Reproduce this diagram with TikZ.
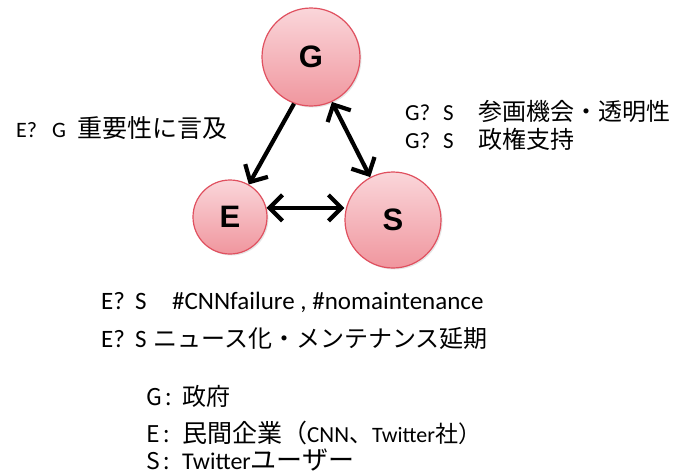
\documentclass[tikz,border=0pt]{standalone}
\usepackage{fontspec}
\setmainfont{Carlito}
\newfontfamily\jp{Noto Sans CJK JP}
\newfontfamily\arialb{Liberation Sans}
\usetikzlibrary{arrows.meta,shadows}
\definecolor{pinktop}{HTML}{FAD6DA}
\definecolor{pinkbot}{HTML}{F0969E}
\definecolor{pinkedge}{HTML}{E0505F}
\tikzset{
  actor/.style={circle, draw=pinkedge, line width=1.2pt, top color=pinktop, bottom color=pinkbot,
    font=\arialb\bfseries\fontsize{31}{34}\selectfont, inner sep=0pt,
    drop shadow={opacity=0.2, shadow xshift=1.5pt, shadow yshift=-1.5pt}},
  rel/.style={line width=4.2pt, black, >={Straight Barb[length=13pt,width=26pt]}},
  lbl/.style={anchor=west, inner sep=0pt},
}
\newcommand{\bx}[2]{\makebox[#1][l]{#2}}
\newcommand{\fs}[1]{\fontsize{#1}{#1}\selectfont}
\begin{document}
\begin{tikzpicture}[x=1pt,y=-1pt]
\path[use as bounding box, fill=white] (0,0) rectangle (679,474);
\node[actor, minimum size=98pt] (G) at (311,57) {G};
\node[actor, minimum size=74pt] (E) at (230,217) {E};
\node[actor, minimum size=96pt] (S) at (393,220) {S};
\draw[rel, ->] (G.250) -- (E.60);
\draw[rel, <->] (G.295) -- (S.118);
\draw[rel, <->] (E.14) -- (S.west |- E.14);
\node[lbl] (t1) at (16,128) {\fs{22}\bx{36pt}{E?}\bx{25pt}{G}{\jp\fs{25}重要性に言及}};
\node[lbl] (t2) at (405,111) {\fs{23}\bx{38pt}{G?}\bx{35pt}{S}{\jp\fs{24}参画機会・透明性}};
\node[lbl] (t3) at (405,139) {\fs{23}\bx{38pt}{G?}\bx{35pt}{S}{\jp\fs{24}政権支持}};
\node[lbl] (t4) at (101,302) {\fs{25}\bx{34pt}{E?}\bx{37pt}{S}\#CNNfailure , \#nomaintenance};
\node[lbl] (t5) at (101,338) {\fs{25}\bx{34pt}{E?}\bx{18pt}{S}{\jp\fs{24}ニュース化・メンテナンス延期}};
\node[lbl] (l1) at (146,396) {\bx{36pt}{\jp\fs{23}G\,:}{\jp\fs{24}政府}};
\node[lbl] (l2) at (146,433) {\bx{36pt}{\jp\fs{23}E\,:}{\jp\fs{25}民間企業（}\fs{23}CNN{\jp\fs{23}、}\fs{22}Twitter{\jp\fs{23}社）}};
\node[lbl] (l3) at (146,460) {\bx{36pt}{\jp\fs{23}S\,:}\fs{24}Twitter{\jp\fs{26}ユーザー}};
\end{tikzpicture}
\end{document}
